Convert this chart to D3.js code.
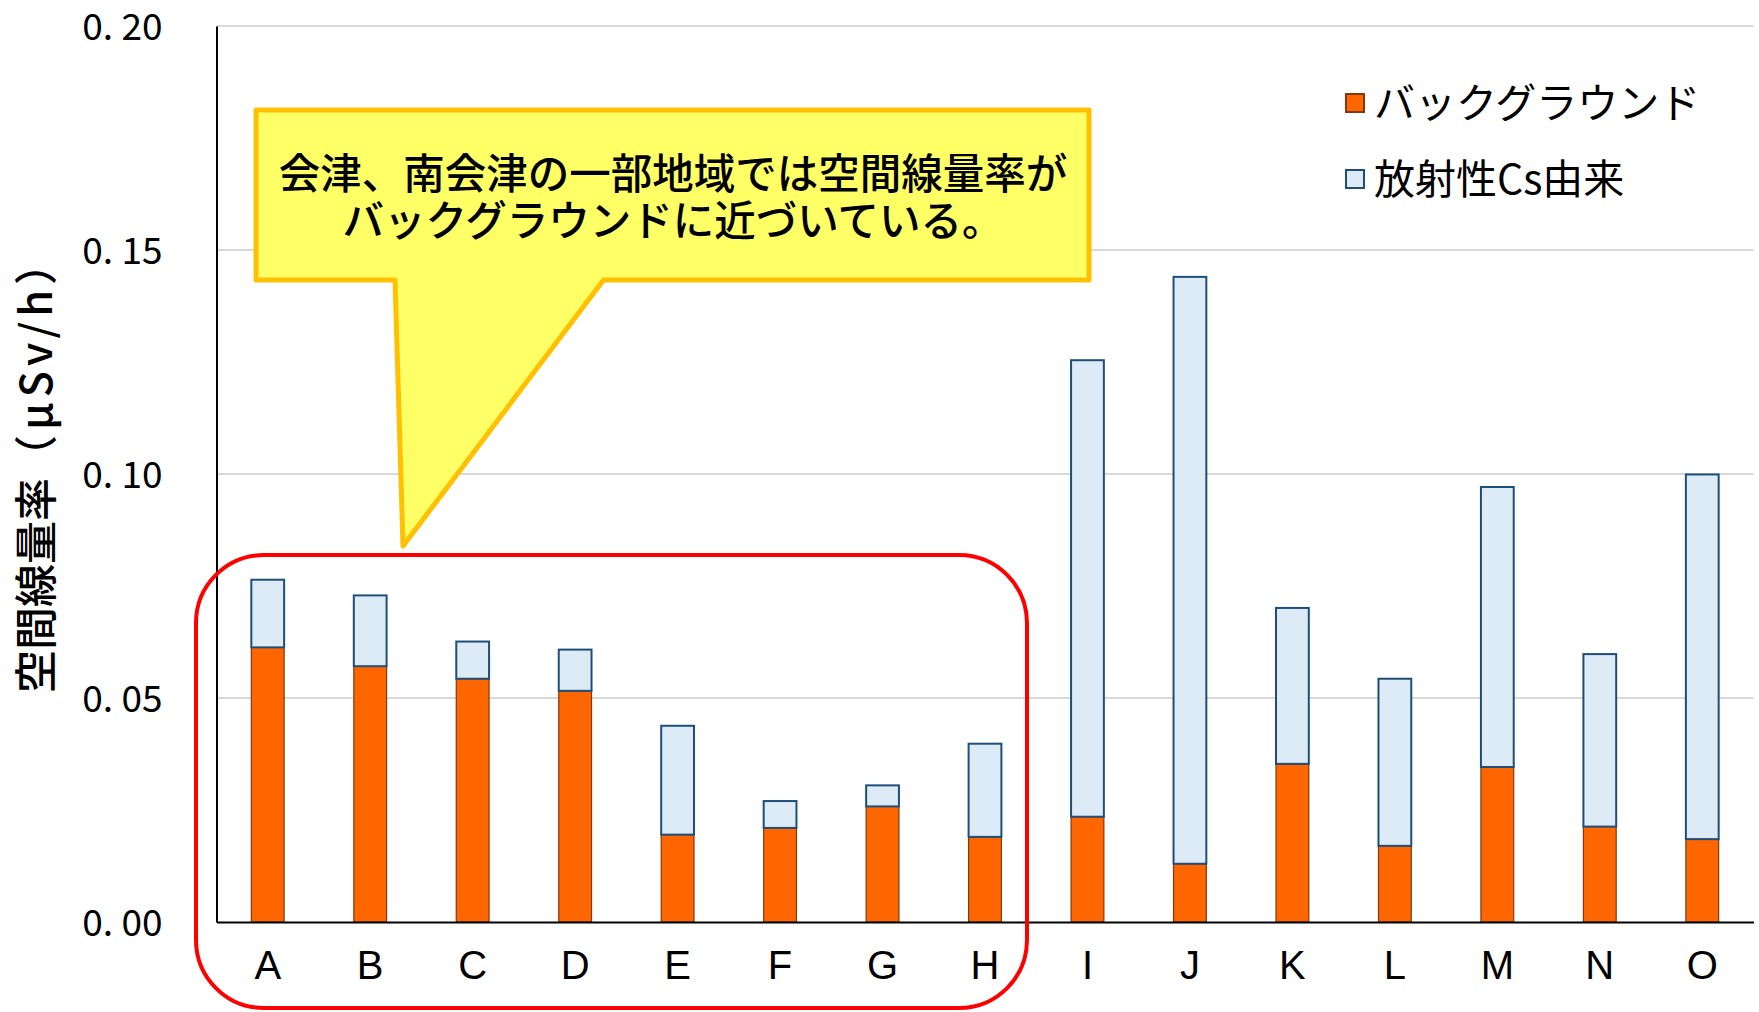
<!DOCTYPE html>
<html>
<head>
<meta charset="utf-8">
<script src="https://cdn.jsdelivr.net/npm/d3@7"></script>
<style>
body { margin: 0; background: #fff; }
text { font-family: "Noto Sans CJK JP", sans-serif; }
</style>
</head>
<body>
<div id="chartdiv"></div>
<script>
// categories and stacked values (uSv/h)
var categories = ['A','B','C','D','E','F','G','H','I','J','K','L','M','N','O'];
var background = [0.0613,0.0571,0.0543,0.0516,0.0195,0.0210,0.0258,0.0190,0.0235,0.0130,0.0353,0.0170,0.0346,0.0213,0.0185];
var totals     = [0.0764,0.0729,0.0626,0.0608,0.0438,0.0270,0.0305,0.0398,0.1254,0.1440,0.0701,0.0543,0.0971,0.0598,0.0999];
var yTicks = [0, 0.05, 0.10, 0.15, 0.20];
var seriesNames = ['バックグラウンド', '放射性Cs由来'];
var calloutLines = ['会津、南会津の一部地域では空間線量率が', 'バックグラウンドに近づいている。'];

var W = 1759, H = 1012;
var margin = {top: 26, right: 5.5, bottom: 90, left: 216.5}
  , width = W - margin.left - margin.right
  , height = H - margin.top - margin.bottom;

var data = categories.map(function(c, i) {
  return {cat: c, bg: background[i], cs: totals[i] - background[i]};
});

var xScale = d3.scaleBand().domain(categories).range([0, width]).paddingInner(0.68).paddingOuter(0.34);
var yScale = d3.scaleLinear().domain([0, 0.2]).range([height, 0]);

var svgRoot = d3.select('#chartdiv')
  .append('svg')
  .attr('width', W)
  .attr('height', H)
  .style('background-color', '#fff');

var svg = svgRoot.append('g')
  .attr('transform', 'translate(' + margin.left + ',' + margin.top + ')');

// gridlines
svg.append('g')
  .selectAll('line')
  .data(yTicks.slice(1))
  .enter().append('line')
  .attr('x1', 0).attr('x2', width)
  .attr('y1', function(d) { return yScale(d); })
  .attr('y2', function(d) { return yScale(d); })
  .style('stroke', '#d9d9d9')
  .attr('stroke-width', 2);

var stack = d3.stack().keys(['bg', 'cs'])(data);
var fills = ['#ff6600', '#ddebf7'];
var strokes = ['#7f3a10', '#1f4e79'];

svg.selectAll('.series')
  .data(stack)
  .enter().append('g')
  .attr('class', 'series')
  .style('fill', function(d, i) { return fills[i]; })
  .style('stroke', function(d, i) { return strokes[i]; })
  .attr('stroke-width', function(d, i) { return i ? 2 : 1.2; })
  .selectAll('rect')
  .data(function(d) { return d; })
  .enter().append('rect')
  .attr('x', function(d) { return xScale(d.data.cat); })
  .attr('width', xScale.bandwidth())
  .attr('y', function(d) { return yScale(d[1]); })
  .attr('height', function(d) { return yScale(d[0]) - yScale(d[1]); });

// y axis
var yAxis = svg.append('g')
  .call(d3.axisLeft(yScale).tickValues(yTicks).tickSize(0).tickPadding(54)
    .tickFormat(function(d) { return d3.format('.2f')(d).replace('.', '. '); }));
yAxis.select('.domain').attr('stroke', '#000').attr('stroke-width', 2);
yAxis.selectAll('text')
  .style('font-family', '"Noto Sans CJK JP", sans-serif')
  .attr('font-size', '37px')
  .attr('fill', '#000')
  .attr('dy', '0.36em');

// x axis
var xAxis = svg.append('g')
  .attr('transform', 'translate(0,' + height + ')')
  .call(d3.axisBottom(xScale).tickSize(0).tickPadding(29));
xAxis.select('.domain').attr('stroke', '#000').attr('stroke-width', 2);
xAxis.selectAll('text')
  .style('font-family', '"Liberation Sans", Arial, sans-serif')
  .attr('font-size', '40px')
  .attr('fill', '#000');

// y title
var yTitle = svgRoot.append('text')
  .attr('transform', 'translate(52,465) rotate(-90)')
  .attr('text-anchor', 'middle')
  .attr('font-size', '43px')
  .attr('font-weight', 500);
yTitle.append('tspan').text('空間線量率');
yTitle.append('tspan').attr('letter-spacing', '5px').text('（μSv/h）');

// legend
var legend = svgRoot.append('g').attr('transform', 'translate(1346,0)');
seriesNames.forEach(function(name, i) {
  var cy = 103 + i * 76;
  legend.append('rect')
    .attr('x', 0).attr('y', cy - 9)
    .attr('width', 18).attr('height', 18)
    .style('fill', fills[i])
    .style('stroke', strokes[i])
    .attr('stroke-width', 2);
  legend.append('text')
    .attr('x', 28).attr('y', cy)
    .attr('dy', '0.36em')
    .attr('font-size', '41px')
    .text(name);
});

// callout
svgRoot.append('path')
  .attr('d', 'M256,110 H1089 V280 H603.5 L403,546 L395,280 H256 Z')
  .style('fill', '#ffff66')
  .style('stroke', '#ffc000')
  .attr('stroke-width', 5)
  .attr('stroke-linejoin', 'round');

svgRoot.append('g').selectAll('text')
  .data(calloutLines)
  .enter().append('text')
  .attr('x', 673)
  .attr('y', function(d, i) { return 174 + i * 47; })
  .attr('dy', '0.36em')
  .attr('text-anchor', 'middle')
  .attr('font-size', '41.5px')
  .attr('font-weight', 500)
  .text(function(d) { return d; });

// highlight box around A-H
svgRoot.append('rect')
  .attr('x', 196).attr('y', 555)
  .attr('width', 831).attr('height', 453)
  .attr('rx', 68).attr('ry', 68)
  .style('fill', 'none')
  .style('stroke', '#ff0000')
  .attr('stroke-width', 4);
</script>
</body>
</html>
